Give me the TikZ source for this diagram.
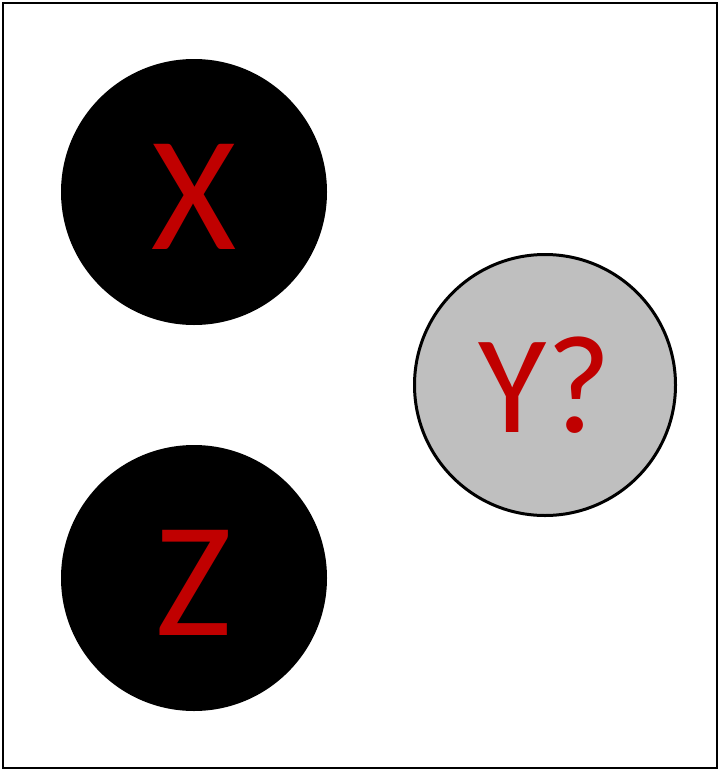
\documentclass[tikz,border=0pt]{standalone}
\usepackage{fontspec}
\setmainfont{Carlito}
\usepackage{xcolor}
\usetikzlibrary{positioning}
\definecolor{varred}{HTML}{C00000}
\definecolor{unknowngray}{HTML}{BFBFBF}

\begin{document}
\begin{tikzpicture}[
  x=1pt, y=-1pt,
  known/.style={circle, fill=black, minimum size=266pt, inner sep=0pt,
                text=varred, text height=114pt, text depth=0pt,
                font=\fontsize{164}{164}\selectfont},
  unknown/.style={circle, draw=black, line width=3pt, fill=unknowngray,
                  minimum size=261pt, inner sep=0pt,
                  text=varred, text height=94pt, text depth=0pt,
                  font=\fontsize{140}{140}\selectfont}
]
  \useasboundingbox (0,0) rectangle (720,771);
  \draw[line width=2pt] (3,3) rectangle (717,768);

  \node[known] (x) at (194,192) {X};
  \node[known] (z) at (194,578) {Z};
  \node[unknown] (y) at (545,385) {Y?};
\end{tikzpicture}
\end{document}
